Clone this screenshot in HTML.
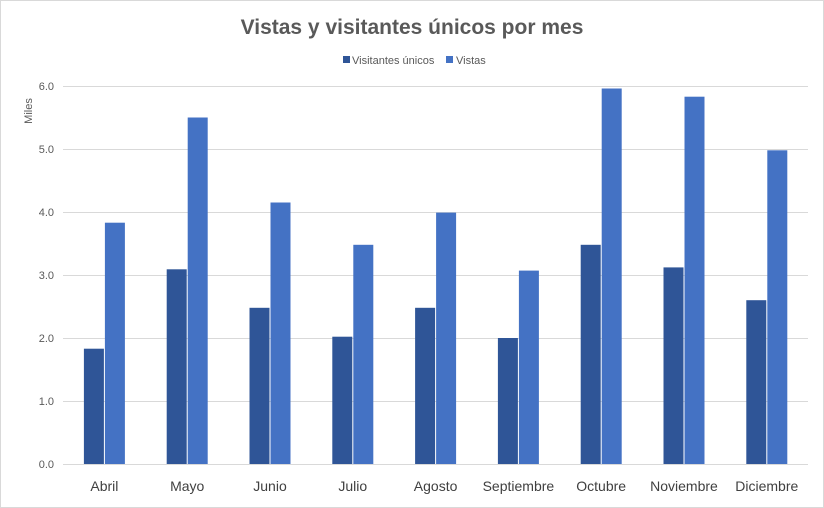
<!DOCTYPE html>
<html><head><meta charset="utf-8"><style>
body{margin:0;background:#fff}
svg{display:block;font-family:"Liberation Sans",sans-serif}
</style></head><body>
<svg width="824" height="508" xmlns="http://www.w3.org/2000/svg">
<rect x="0.5" y="0.5" width="823" height="507" fill="#fff" stroke="#d9d9d9"/>
<text x="412" y="34" text-anchor="middle" font-size="21" font-weight="bold" fill="#595959">Vistas y visitantes únicos por mes</text>
<rect x="343" y="56" width="7" height="7" fill="#2f5597"/>
<text x="352" y="64" font-size="11" fill="#595959">Visitantes únicos</text>
<rect x="446" y="56" width="7" height="7" fill="#4472c4"/>
<text x="456" y="64" font-size="11" fill="#595959">Vistas</text>
<text transform="translate(32,111) rotate(-90)" text-anchor="middle" font-size="11" fill="#595959">Miles</text>
<g stroke="#d9d9d9" stroke-width="1">
<line x1="63" x2="808" y1="86.5" y2="86.5"/><line x1="63" x2="808" y1="149.5" y2="149.5"/>
<line x1="63" x2="808" y1="212.5" y2="212.5"/><line x1="63" x2="808" y1="275.5" y2="275.5"/>
<line x1="63" x2="808" y1="338.5" y2="338.5"/><line x1="63" x2="808" y1="401.5" y2="401.5"/>
<line x1="63" x2="808" y1="464.5" y2="464.5"/>
</g>
<g font-size="11" fill="#595959" text-anchor="end">
<text x="54" y="90">6.0</text><text x="54" y="153">5.0</text><text x="54" y="216">4.0</text>
<text x="54" y="279">3.0</text><text x="54" y="342">2.0</text><text x="54" y="405">1.0</text><text x="54" y="468">0.0</text>
</g>
<g fill="#2f5597">
<rect x="83.9" y="348.7" width="20" height="115.3"/>
<rect x="166.7" y="269.3" width="20" height="194.7"/>
<rect x="249.5" y="307.8" width="20" height="156.2"/>
<rect x="332.3" y="336.7" width="20" height="127.3"/>
<rect x="415.1" y="307.8" width="20" height="156.2"/>
<rect x="497.9" y="338" width="20" height="126"/>
<rect x="580.7" y="244.8" width="20" height="219.2"/>
<rect x="663.5" y="267.4" width="20" height="196.6"/>
<rect x="746.3" y="300.2" width="20" height="163.8"/>
</g>
<g fill="#4472c4">
<rect x="104.9" y="222.7" width="20" height="241.3"/>
<rect x="187.7" y="117.5" width="20" height="346.5"/>
<rect x="270.5" y="202.5" width="20" height="261.5"/>
<rect x="353.3" y="244.8" width="20" height="219.2"/>
<rect x="436.1" y="212.6" width="20" height="251.4"/>
<rect x="518.9" y="270.6" width="20" height="193.4"/>
<rect x="601.7" y="88.5" width="20" height="375.5"/>
<rect x="684.5" y="96.7" width="20" height="367.3"/>
<rect x="767.3" y="150.3" width="20" height="313.7"/>
</g>
<g font-size="14" fill="#404040" text-anchor="middle">
<text x="104.4" y="491">Abril</text>
<text x="187.2" y="491">Mayo</text>
<text x="270" y="491">Junio</text>
<text x="352.8" y="491">Julio</text>
<text x="435.6" y="491">Agosto</text>
<text x="518.4" y="491">Septiembre</text>
<text x="601.2" y="491">Octubre</text>
<text x="684" y="491">Noviembre</text>
<text x="766.8" y="491">Diciembre</text>
</g>
</svg>
</body></html>
